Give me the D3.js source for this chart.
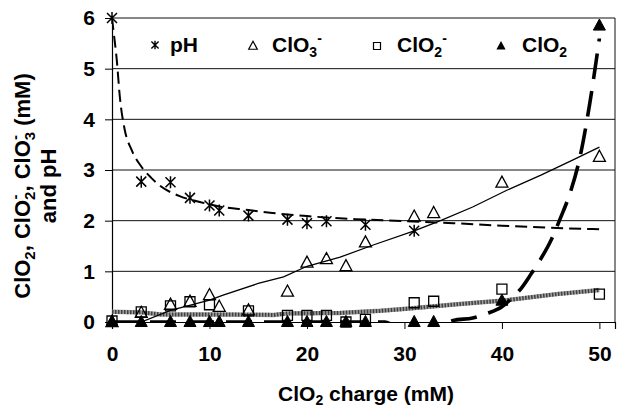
<!DOCTYPE html>
<html>
<head>
<meta charset="utf-8">
<script src="https://cdn.jsdelivr.net/npm/d3@7"></script>
<style>
  body { margin: 0; background: #fff; }
  svg text { font-family: "Liberation Sans", Arial, sans-serif; font-weight: bold; fill: #000; }
</style>
</head>
<body>
<svg id="chart" width="618" height="410"></svg>
<script>
// measured points
const xCharge = [0, 3, 6, 8, 10, 11, 14, 18, 20, 22, 24, 26, 31, 33, 40, 50];
const pHVals   = [6.0, 2.77, 2.76, 2.45, 2.3, 2.2, 2.1, 2.02, 1.95, 1.99, null, 1.92, 1.8, null, null, null];
const clo3Vals = [0, 0.18, 0.34, 0.4, 0.53, 0.3, 0.23, 0.6, 1.17, 1.24, 1.1, 1.57, 2.08, 2.15, 2.75, 3.26];
const clo2mVals = [0.02, 0.2, 0.32, 0.4, 0.34, null, 0.22, 0.13, 0.13, 0.13, 0.0, 0.05, 0.38, 0.41, 0.65, 0.55];
const clo2Vals = [0, 0, 0, 0, 0, 0, 0, 0, 0, 0, 0, 0, 0, 0, 0.42, 5.85];

// fitted curves
const pHCurveX = [0, 0.15, 0.5, 0.8, 1.3, 2, 3, 4, 5, 7, 9, 11, 14, 17, 20, 25, 30, 35, 40, 45, 50];
const pHCurveY = [6, 5.75, 5.15, 4.45, 3.8, 3.4, 3.07, 2.85, 2.68, 2.48, 2.37, 2.28, 2.21, 2.14, 2.09, 2.03, 1.99, 1.95, 1.9, 1.86, 1.83];
const clo3CurveX = [0, 3, 6, 10, 11.4, 15, 17.6, 20, 23.4, 26.8, 31, 33.7, 37, 40.5, 44, 47.3, 50];
const clo3CurveY = [0, 0, 0.23, 0.43, 0.53, 0.76, 0.89, 1.1, 1.28, 1.52, 1.8, 2.0, 2.27, 2.6, 2.9, 3.2, 3.45];
const clo2mCurveX = [0, 3, 5, 10, 16.6, 18, 23.4, 27.5, 30.2, 35.4, 40.5, 45.6, 50];
const clo2mCurveY = [0.2, 0.19, 0.15, 0.15, 0.14, 0.17, 0.18, 0.22, 0.26, 0.35, 0.43, 0.55, 0.63];
const clo2CurveX = [0, 28, 29.5, 33, 35, 37, 38.5, 40, 41, 42, 43, 44, 45, 46, 47, 48, 49, 50];
const clo2CurveY = [0, 0, -0.12, -0.12, 0.03, 0.08, 0.17, 0.3, 0.47, 0.67, 0.95, 1.25, 1.6, 2.05, 2.55, 3.25, 4.3, 5.6];

const yTicks = [0, 1, 2, 3, 4, 5, 6];
const xTicks = [0, 10, 20, 30, 40, 50];

const svg = d3.select('#chart');
const x = d3.scaleLinear().domain([0, 51.6]).range([112, 615]);
const y = d3.scaleLinear().domain([0, 6]).range([322, 18]);

svg.append('clipPath').attr('id', 'plot')
  .append('rect').attr('x', x(0)).attr('y', y(6)).attr('width', x(51.6) - x(0)).attr('height', y(0) - y(6));

// grid
svg.append('g').selectAll('line').data(yTicks.filter((d) => d > 0))
  .enter().append('line')
    .attr('x1', x(0)).attr('x2', x(51.6))
    .attr('y1', (d) => y(d)).attr('y2', (d) => y(d))
    .attr('stroke', '#111').attr('stroke-width', 1);
svg.append('line').attr('x1', x(51.6)).attr('x2', x(51.6)).attr('y1', y(6)).attr('y2', y(0))
  .attr('stroke', '#111');

// axes
var yAxis = svg.append('g').attr('transform', `translate(${x(0)},0)`)
  .call(d3.axisLeft(y).tickValues(yTicks).tickSize(7).tickPadding(10).tickFormat(d3.format('d')));
var xAxis = svg.append('g').attr('transform', `translate(0,${y(0)})`)
  .call(d3.axisBottom(x).tickValues(xTicks).tickSize(7).tickPadding(17).tickFormat(d3.format('d')));
[yAxis, xAxis].forEach((a) => {
  a.select('.domain').attr('stroke', '#000').attr('stroke-width', 1.2);
  a.selectAll('.tick line').attr('stroke', '#000');
  a.selectAll('text').attr('font-size', 21).attr('font-family', null);
});

const line = d3.line().x((d) => x(d[0])).y((d) => y(d[1]));
const pairs = (xs, ys) => xs.map((v, i) => [v, ys[i]]);
const curves = svg.append('g').attr('clip-path', 'url(#plot)');

curves.append('path').datum(pairs(clo2mCurveX, clo2mCurveY))
  .attr('d', line).attr('fill', 'none').attr('stroke', '#a0a0a0').attr('stroke-width', 4.5);
curves.append('path').datum(pairs(clo2mCurveX, clo2mCurveY))
  .attr('d', line).attr('fill', 'none').attr('stroke', '#404040').attr('stroke-width', 4)
  .attr('stroke-dasharray', '1.5,1.5');
curves.append('path').datum(pairs(clo3CurveX, clo3CurveY))
  .attr('d', line).attr('fill', 'none').attr('stroke', '#000').attr('stroke-width', 1.3);
curves.append('path').datum(pairs(pHCurveX, pHCurveY))
  .attr('d', line.curve(d3.curveMonotoneX)).attr('fill', 'none').attr('stroke', '#000')
  .attr('stroke-width', 2).attr('stroke-dasharray', '12,6');
curves.append('path').datum(pairs(clo2CurveX, clo2CurveY))
  .attr('d', line.curve(d3.curveMonotoneX)).attr('fill', 'none').attr('stroke', '#000')
  .attr('stroke-width', 3.6).attr('stroke-dasharray', '26,12');

// markers
const star = (s) => `M${-s},${-s}L${s},${s}M${-s},${s}L${s},${-s}M0,${-s * 1.2}L0,${s * 1.2}`;
const tri = (s) => `M0,${-s * 1.1}L${s},${s * 0.75}L${-s},${s * 0.75}Z`;
const sq = (s) => `M${-s},${-s}H${s}V${s}H${-s}Z`;

function markers(vals, path, fill, sw) {
  svg.append('g').selectAll('path')
    .data(xCharge.map((v, i) => [v, vals[i]]).filter((d) => d[1] !== null))
    .enter().append('path')
      .attr('transform', (d) => `translate(${x(d[0])},${y(d[1])})`)
      .attr('d', path)
      .attr('fill', fill).attr('stroke', '#000').attr('stroke-width', sw);
}
markers(clo2mVals, sq(5), 'none', 1.3);
markers(clo3Vals, tri(6), 'none', 1.3);
markers(clo2Vals, tri(6), '#000', 1);
markers(pHVals, star(5), 'none', 1.5);

// legend
const leg = svg.append('g');
leg.append('path').attr('transform', 'translate(155,45)').attr('d', star(3.6)).attr('stroke', '#000').attr('stroke-width', 1.4).attr('fill', 'none');
leg.append('text').attr('x', 170).attr('y', 52).attr('font-size', 21).text('pH');
leg.append('path').attr('transform', 'translate(253,46)').attr('d', tri(4.3)).attr('stroke', '#000').attr('stroke-width', 1.2).attr('fill', 'none');
var t = leg.append('text').attr('x', 272).attr('y', 52).attr('font-size', 21);
t.append('tspan').text('ClO');
t.append('tspan').attr('dy', 5).attr('font-size', 14).text('3');
t.append('tspan').attr('dy', -14).attr('font-size', 14).text('-');
leg.append('path').attr('transform', 'translate(377,46)').attr('d', sq(3.5)).attr('stroke', '#000').attr('stroke-width', 1.2).attr('fill', 'none');
t = leg.append('text').attr('x', 397).attr('y', 52).attr('font-size', 21);
t.append('tspan').text('ClO');
t.append('tspan').attr('dy', 5).attr('font-size', 14).text('2');
t.append('tspan').attr('dy', -14).attr('font-size', 14).text('-');
leg.append('path').attr('transform', 'translate(501,46)').attr('d', tri(4.6)).attr('fill', '#000');
t = leg.append('text').attr('x', 522).attr('y', 52).attr('font-size', 21);
t.append('tspan').text('ClO');
t.append('tspan').attr('dy', 5).attr('font-size', 14).text('2');

// axis titles
t = svg.append('text').attr('x', 366).attr('y', 401).attr('text-anchor', 'middle').attr('font-size', 21);
t.append('tspan').text('ClO');
t.append('tspan').attr('dy', 4).attr('font-size', 14).text('2');
t.append('tspan').attr('dy', -4).text(' charge (mM)');

t = svg.append('text').attr('transform', 'translate(30,186) rotate(-90)').attr('text-anchor', 'middle').attr('font-size', 22);
t.append('tspan').text('ClO');
t.append('tspan').attr('dy', 5).attr('font-size', 15).text('2');
t.append('tspan').attr('dy', -5).text(', ClO');
t.append('tspan').attr('dy', 5).attr('font-size', 15).text('2');
t.append('tspan').attr('dy', -15).attr('dx', -8).attr('font-size', 15).text('-');
t.append('tspan').attr('dy', 10).attr('dx', 3).text(', ClO');
t.append('tspan').attr('dy', 5).attr('font-size', 15).text('3');
t.append('tspan').attr('dy', -15).attr('dx', -8).attr('font-size', 15).text('-');
t.append('tspan').attr('dy', 10).attr('dx', 3).text(' (mM)');
svg.append('text').attr('transform', 'translate(56,186) rotate(-90)').attr('text-anchor', 'middle')
  .attr('font-size', 22).text('and pH');
</script>
</body>
</html>
